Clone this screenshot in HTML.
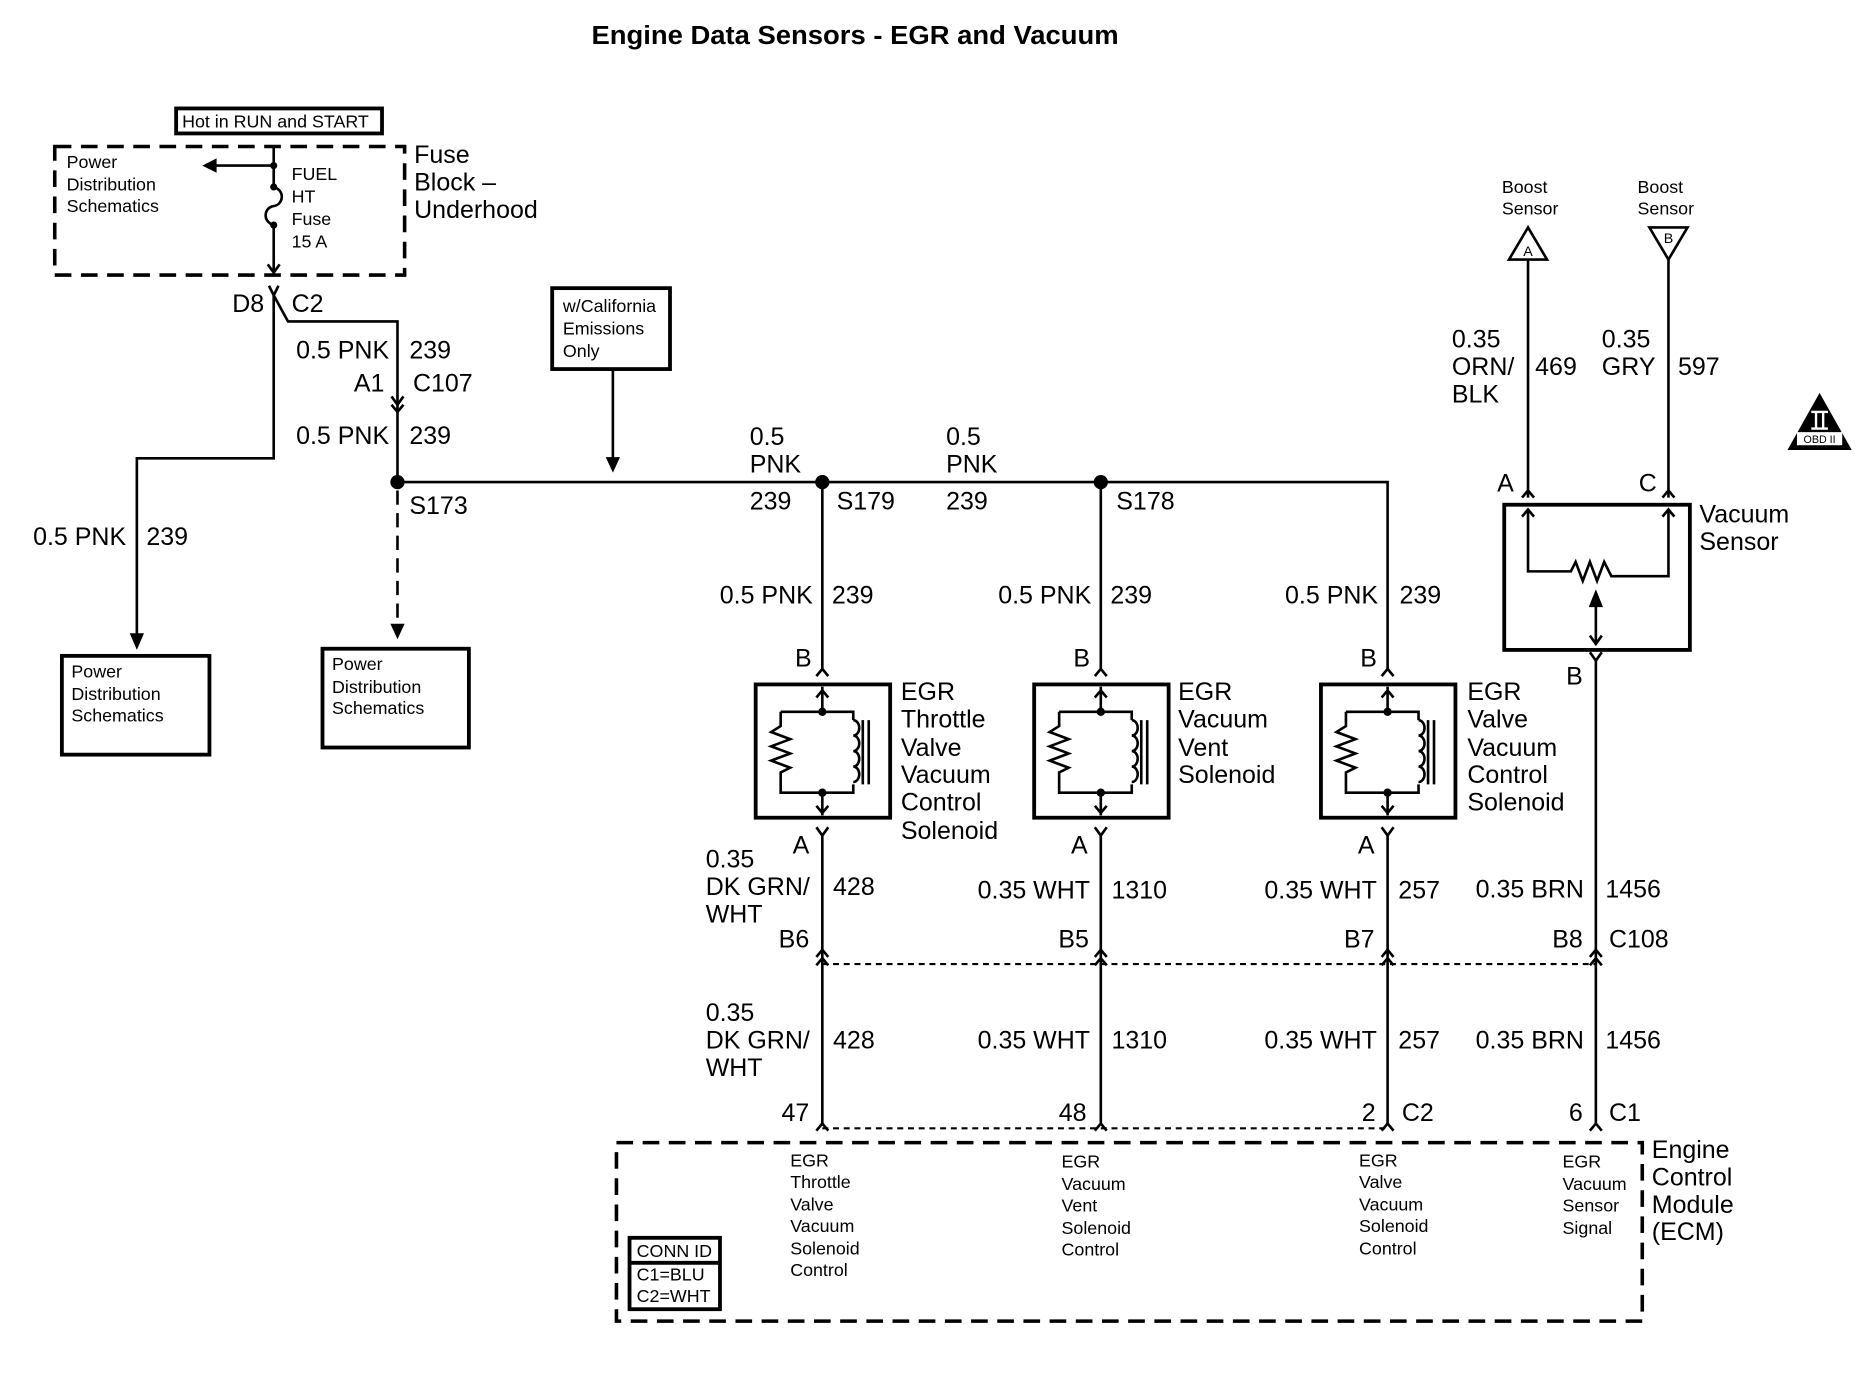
<!DOCTYPE html>
<html><head><meta charset="utf-8"><style>
html,body{margin:0;padding:0;background:#fff;}
svg{display:block;}
text{font-family:"Liberation Sans",Arial,sans-serif;fill:#000;}
.s{font-size:15px;}
.m{font-size:21px;}
.w{stroke:#000;stroke-width:2.2;fill:none;}
.b{stroke:#000;stroke-width:3.2;fill:none;}
.d{stroke:#000;stroke-width:3;fill:none;stroke-dasharray:14 8;}
.fd{stroke:#000;stroke-width:1.8;fill:none;stroke-dasharray:5 4;}
</style></head><body>
<svg width="1866" height="1376" viewBox="0 0 1568 1156" xmlns="http://www.w3.org/2000/svg">
<defs>
<g id="sol">
  <rect x="0" y="0" width="113" height="112" class="b"/>
  <path class="w" d="M56 2 V23 M51 11 L56 5 L61 11"/>
  <path class="w" d="M21 23 H82 V30 M21 23 V35 L13 40 L29 46 L13 52 L29 58 L13 64 L29 70 L21 74 V91 H82 V84 M56 91 V110 M51 102 L56 108 L61 102"/>
  <path class="w" d="M82 30 a5 6.5 0 0 1 0 13 a5 6.5 0 0 1 0 13 a5 6.5 0 0 1 0 13 a5 6.5 0 0 1 0 13"/>
  <path class="w" d="M90 30 V84 M95 30 V84"/>
  <circle cx="56" cy="23" r="3.5"/><circle cx="56" cy="91" r="3.5"/>
</g>
</defs>

<text x="497" y="37" font-size="22" font-weight="bold" textLength="443" lengthAdjust="spacingAndGlyphs">Engine Data Sensors - EGR and Vacuum</text>

<!-- fuse block -->
<rect x="148" y="91" width="173" height="21" class="b"/>
<text x="153" y="107" class="s">Hot in RUN and START</text>
<rect x="46" y="123" width="294" height="108" class="d"/>
<text class="s" x="56" y="141">Power</text><text class="s" x="56" y="160">Distribution</text><text class="s" x="56" y="178">Schematics</text>
<path class="w" d="M230 123 V157 M230 189 V229 M225 222 L230 229 L235 222 M230 139 H178"/>
<path d="M170 139 L182 133 L182 145 Z"/>
<circle cx="230" cy="139" r="3"/><circle cx="230" cy="157" r="3"/><circle cx="230" cy="189" r="3"/>
<path class="w" d="M230 157 C240 160,238 172,230 173 C222 174,220 186,230 189"/>
<text class="s" x="245" y="151">FUEL</text><text class="s" x="245" y="170">HT</text><text class="s" x="245" y="189">Fuse</text><text class="s" x="245" y="208">15 A</text>
<text class="m" x="348" y="137">Fuse</text><text class="m" x="348" y="160">Block –</text><text class="m" x="348" y="183">Underhood</text>

<path class="w" d="M226 240 L230 248 L234 240 M230 248 V385 H115 V540 M230 248 L242 270 H334 V405"/>
<path d="M115 546 L109 532 L121 532 Z"/>
<text class="m" x="222" y="262" text-anchor="end">D8</text><text class="m" x="245" y="262">C2</text>
<text class="m" x="327" y="301" text-anchor="end">0.5 PNK</text><text class="m" x="344" y="301">239</text>
<text class="m" x="323" y="329" text-anchor="end">A1</text><text class="m" x="347" y="329">C107</text>
<path class="w" d="M329 333 L334 340 L339 333 M329 340 L334 346 L339 340"/>
<text class="m" x="327" y="373" text-anchor="end">0.5 PNK</text><text class="m" x="344" y="373">239</text>
<text class="m" x="106" y="458" text-anchor="end">0.5 PNK</text><text class="m" x="123" y="458">239</text>

<circle cx="334" cy="405" r="6"/>
<path class="w" d="M334 405 H1166 V563"/>
<text class="m" x="344" y="432">S173</text>
<path d="M334 412 V525" stroke="#000" stroke-width="2.2" stroke-dasharray="12 7"/>
<path d="M334 537 L328 524 L340 524 Z"/>
<rect x="52" y="551" width="124" height="83" class="b"/>
<text class="s" x="60" y="569">Power</text><text class="s" x="60" y="588">Distribution</text><text class="s" x="60" y="606">Schematics</text>
<rect x="271" y="545" width="123" height="83" class="b"/>
<text class="s" x="279" y="563">Power</text><text class="s" x="279" y="582">Distribution</text><text class="s" x="279" y="600">Schematics</text>

<rect x="464" y="242" width="99" height="68" class="b"/>
<text class="s" x="473" y="262">w/California</text><text class="s" x="473" y="281">Emissions</text><text class="s" x="473" y="300">Only</text>
<path class="w" d="M515 310 V388"/><path d="M515 397 L509 384 L521 384 Z"/>

<circle cx="691" cy="405" r="6"/><circle cx="925" cy="405" r="6"/>
<text class="m" x="630" y="374">0.5</text><text class="m" x="630" y="397">PNK</text><text class="m" x="630" y="428">239</text><text class="m" x="703" y="428">S179</text>
<text class="m" x="795" y="374">0.5</text><text class="m" x="795" y="397">PNK</text><text class="m" x="795" y="428">239</text><text class="m" x="938" y="428">S178</text>
<path class="w" d="M691 405 V563 M925 405 V563"/>
<text class="m" x="683" y="507" text-anchor="end">0.5 PNK</text><text class="m" x="699" y="507">239</text>
<text class="m" x="917" y="507" text-anchor="end">0.5 PNK</text><text class="m" x="933" y="507">239</text>
<text class="m" x="1158" y="507" text-anchor="end">0.5 PNK</text><text class="m" x="1176" y="507">239</text>

<!-- solenoids -->
<text class="m" x="682" y="560" text-anchor="end">B</text><text class="m" x="916" y="560" text-anchor="end">B</text><text class="m" x="1157" y="560" text-anchor="end">B</text>
<path class="w" d="M686 568 L691 562 L696 568 M920 568 L925 562 L930 568 M1161 568 L1166 562 L1171 568"/>
<use href="#sol" x="635" y="575"/>
<use href="#sol" x="869" y="575"/>
<use href="#sol" x="1110" y="575"/>
<text class="m" x="757" y="588">EGR</text><text class="m" x="757" y="611">Throttle</text><text class="m" x="757" y="635">Valve</text><text class="m" x="757" y="658">Vacuum</text><text class="m" x="757" y="681">Control</text><text class="m" x="757" y="705">Solenoid</text>
<text class="m" x="990" y="588">EGR</text><text class="m" x="990" y="611">Vacuum</text><text class="m" x="990" y="635">Vent</text><text class="m" x="990" y="658">Solenoid</text>
<text class="m" x="1233" y="588">EGR</text><text class="m" x="1233" y="611">Valve</text><text class="m" x="1233" y="635">Vacuum</text><text class="m" x="1233" y="658">Control</text><text class="m" x="1233" y="681">Solenoid</text>
<text class="m" x="680" y="717" text-anchor="end">A</text><text class="m" x="914" y="717" text-anchor="end">A</text><text class="m" x="1155" y="717" text-anchor="end">A</text>
<path class="w" d="M686 695 L691 702 L696 695 M691 702 V945 M920 695 L925 702 L930 695 M925 702 V945 M1161 695 L1166 702 L1171 695 M1166 702 V945 M1341 553 V945"/>
<path class="w" d="M686 804 L691 798 L696 804 M686 811 L691 805 L696 811 M920 804 L925 798 L930 804 M920 811 L925 805 L930 811 M1161 804 L1166 798 L1171 804 M1161 811 L1166 805 L1171 811 M1336 804 L1341 798 L1346 804 M1336 811 L1341 805 L1346 811"/>
<path class="fd" d="M691 810 H1341"/>
<path class="w" d="M686 950 L691 944 L696 950 M920 950 L925 944 L930 950 M1161 950 L1166 944 L1171 950 M1336 950 L1341 944 L1346 950"/>
<path class="fd" d="M691 948 H1166"/>

<text class="m" x="593" y="729">0.35</text><text class="m" x="593" y="752">DK GRN/</text><text class="m" x="593" y="775">WHT</text><text class="m" x="700" y="752">428</text>
<text class="m" x="916" y="755" text-anchor="end">0.35 WHT</text><text class="m" x="934" y="755">1310</text>
<text class="m" x="1157" y="755" text-anchor="end">0.35 WHT</text><text class="m" x="1175" y="755">257</text>
<text class="m" x="1331" y="754" text-anchor="end">0.35 BRN</text><text class="m" x="1349" y="754">1456</text>
<text class="m" x="680" y="796" text-anchor="end">B6</text><text class="m" x="915" y="796" text-anchor="end">B5</text><text class="m" x="1155" y="796" text-anchor="end">B7</text><text class="m" x="1330" y="796" text-anchor="end">B8</text><text class="m" x="1352" y="796">C108</text>
<text class="m" x="593" y="858">0.35</text><text class="m" x="593" y="881">DK GRN/</text><text class="m" x="593" y="904">WHT</text><text class="m" x="700" y="881">428</text>
<text class="m" x="916" y="881" text-anchor="end">0.35 WHT</text><text class="m" x="934" y="881">1310</text>
<text class="m" x="1157" y="881" text-anchor="end">0.35 WHT</text><text class="m" x="1175" y="881">257</text>
<text class="m" x="1331" y="881" text-anchor="end">0.35 BRN</text><text class="m" x="1349" y="881">1456</text>
<text class="m" x="680" y="942" text-anchor="end">47</text><text class="m" x="913" y="942" text-anchor="end">48</text><text class="m" x="1156" y="942" text-anchor="end">2</text><text class="m" x="1178" y="942">C2</text><text class="m" x="1330" y="942" text-anchor="end">6</text><text class="m" x="1352" y="942">C1</text>

<!-- ECM -->
<rect x="518" y="960" width="862" height="150" class="d"/>
<text class="s" x="664" y="980">EGR</text><text class="s" x="664" y="998">Throttle</text><text class="s" x="664" y="1017">Valve</text><text class="s" x="664" y="1035">Vacuum</text><text class="s" x="664" y="1054">Solenoid</text><text class="s" x="664" y="1072">Control</text>
<text class="s" x="892" y="981">EGR</text><text class="s" x="892" y="1000">Vacuum</text><text class="s" x="892" y="1018">Vent</text><text class="s" x="892" y="1037">Solenoid</text><text class="s" x="892" y="1055">Control</text>
<text class="s" x="1142" y="980">EGR</text><text class="s" x="1142" y="998">Valve</text><text class="s" x="1142" y="1017">Vacuum</text><text class="s" x="1142" y="1035">Solenoid</text><text class="s" x="1142" y="1054">Control</text>
<text class="s" x="1313" y="981">EGR</text><text class="s" x="1313" y="1000">Vacuum</text><text class="s" x="1313" y="1018">Sensor</text><text class="s" x="1313" y="1037">Signal</text>
<text class="m" x="1388" y="973">Engine</text><text class="m" x="1388" y="996">Control</text><text class="m" x="1388" y="1019">Module</text><text class="m" x="1388" y="1042">(ECM)</text>
<rect x="529" y="1040" width="76" height="60" class="b"/>
<path class="b" d="M529 1061 H605"/>
<text class="s" x="535" y="1056">CONN ID</text><text class="s" x="535" y="1076">C1=BLU</text><text class="s" x="535" y="1094">C2=WHT</text>

<!-- vacuum sensor -->
<text class="s" x="1262" y="162">Boost</text><text class="s" x="1262" y="180">Sensor</text>
<text class="s" x="1376" y="162">Boost</text><text class="s" x="1376" y="180">Sensor</text>
<path class="w" d="M1284 191 L1268 218 H1300 Z M1386 191 H1418 L1402 218 Z"/>
<text x="1284" y="215" font-size="12" text-anchor="middle">A</text>
<text x="1402" y="204" font-size="12" text-anchor="middle">B</text>
<path class="w" d="M1284 218 V418 M1402 218 V418"/>
<text class="m" x="1220" y="292">0.35</text><text class="m" x="1220" y="315">ORN/</text><text class="m" x="1220" y="338">BLK</text><text class="m" x="1290" y="315">469</text>
<text class="m" x="1346" y="292">0.35</text><text class="m" x="1346" y="315">GRY</text><text class="m" x="1410" y="315">597</text>
<text class="m" x="1258" y="413">A</text><text class="m" x="1377" y="413">C</text>
<path class="w" d="M1279 418 L1284 412 L1289 418 M1397 418 L1402 412 L1407 418"/>
<rect x="1264" y="424" width="156" height="122" class="b"/>
<path class="w" d="M1279 434 L1284 428 L1289 434 M1397 434 L1402 428 L1407 434 M1284 428 V480 H1320 L1324 472 L1330 488 L1336 472 L1342 488 L1348 472 L1354 484 H1402 V428"/>
<path class="w" d="M1341 505 V540 M1336 534 L1341 541 L1346 534"/>
<path d="M1341 495 L1335 510 L1347 510 Z"/>
<path class="w" d="M1336 548 L1341 555 L1346 548"/>
<text class="m" x="1330" y="575" text-anchor="end">B</text>
<text class="m" x="1428" y="439">Vacuum</text><text class="m" x="1428" y="462">Sensor</text>

<!-- OBD II -->
<path d="M1529 330 L1502 378 H1556 Z"/>
<rect x="1510" y="363" width="38" height="11" fill="#fff"/>
<text x="1529" y="372" font-size="9" text-anchor="middle">OBD II</text>
<rect x="1525" y="346" width="2" height="14" fill="#fff"/><rect x="1531" y="346" width="2" height="14" fill="#fff"/>
<rect x="1522" y="345" width="14" height="2" fill="#fff"/><rect x="1522" y="359" width="14" height="2" fill="#fff"/>
</svg>
</body></html>
